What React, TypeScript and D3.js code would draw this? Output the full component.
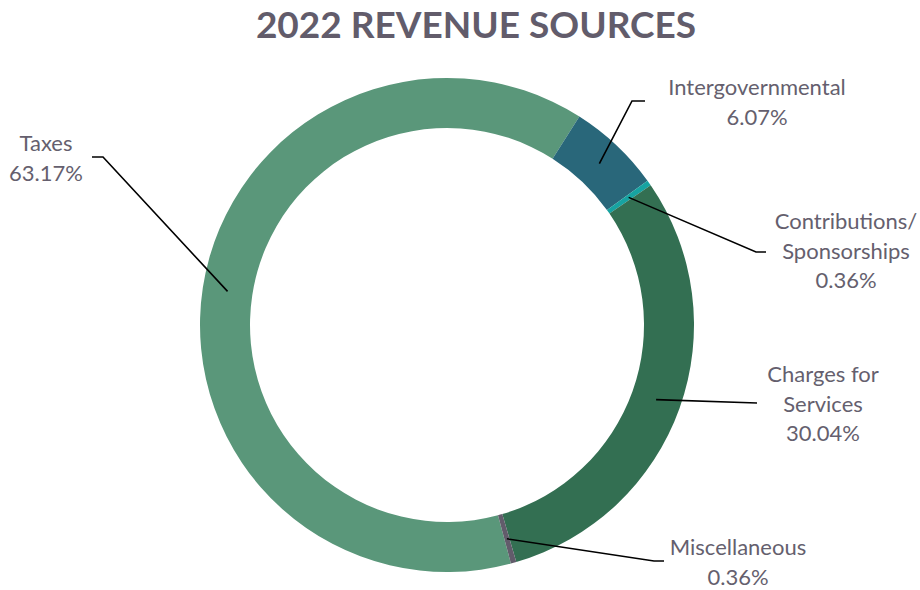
import React from 'react';
import { pie, arc, PieArcDatum } from 'd3';

// revenue shares, in drawing order (clockwise from the Taxes slice)
const categories = ['Taxes', 'Intergovernmental', 'Contributions/ Sponsorships', 'Charges for Services', 'Miscellaneous'];
const shares = [63.17, 6.07, 0.36, 30.04, 0.36];
const labelLines = [
  ['Taxes', '63.17%'],
  ['Intergovernmental', '6.07%'],
  ['Contributions/', 'Sponsorships', '0.36%'],
  ['Charges for', 'Services', '30.04%'],
  ['Miscellaneous', '0.36%'],
];
const colors = ['#5a977a', '#29677a', '#17a3a1', '#336f52', '#625c6b'];

// label layout: elbow point, end of leader, text centre and first baseline
const labelLayout = [
  { elbow: [103, 157], end: [92, 157], tx: 46, ty: 151 },
  { elbow: [632, 101], end: [645, 101], tx: 757, ty: 95 },
  { elbow: [756, 252], end: [766, 252], tx: 846, ty: 229 },
  { elbow: [757, 403], end: [757, 403], tx: 823, ty: 382 },
  { elbow: [654, 561], end: [664, 561], tx: 738, ty: 555 },
];

const width = 920;
const height = 590;
const cx = 447;
const cy = 325;
const outerR = 247;
const innerR = 197;
const startDeg = 165;
const textColor = '#655f6e';
const font = 'Lato, "Open Sans", sans-serif';

type Row = { name: string; value: number };

export default function App() {
  const rows: Row[] = categories.map((c, i) => ({ name: c, value: shares[i] }));
  const start = (startDeg * Math.PI) / 180;
  const slices = pie<Row>()
    .sort(null)
    .value(d => d.value)
    .startAngle(start)
    .endAngle(start + Math.PI * 2)(rows);

  const arcGen = arc<PieArcDatum<Row>>()
    .innerRadius(innerR)
    .outerRadius(outerR);
  const midArc = arc<PieArcDatum<Row>>()
    .innerRadius((innerR + outerR) / 2 - 2)
    .outerRadius((innerR + outerR) / 2 + 2);

  return (
    <div style={{ position: 'absolute', left: 0, top: 0 }}>
      <svg width={width} height={height} style={{ display: 'block', background: '#fff' }}>
        <text
          x={476}
          y={38}
          textAnchor="middle"
          fontFamily={font}
          fontWeight="bold"
          fontSize={37}
          fill="#625c6b"
        >
          2022 REVENUE SOURCES
        </text>
        <g transform={`translate(${cx},${cy})`}>
          {slices.map((s, i) => (
            <path key={s.data.name} d={arcGen(s) || ''} fill={colors[i]} />
          ))}
        </g>
        {slices.map((s, i) => {
          const [mx, my] = midArc.centroid(s);
          const lay = labelLayout[i];
          return (
            <polyline
              key={'l' + i}
              points={`${cx + mx},${cy + my} ${lay.elbow[0]},${lay.elbow[1]} ${lay.end[0]},${lay.end[1]}`}
              fill="none"
              stroke="#000"
              strokeWidth={1.6}
            />
          );
        })}
        {labelLines.map((lines, i) => (
          <text
            key={'t' + i}
            textAnchor="middle"
            fontFamily={font}
            fontSize={22}
            fill={textColor}
          >
            {lines.map((ln, j) => (
              <tspan key={j} x={labelLayout[i].tx} y={labelLayout[i].ty + j * 29.5}>
                {ln}
              </tspan>
            ))}
          </text>
        ))}
      </svg>
    </div>
  );
}
